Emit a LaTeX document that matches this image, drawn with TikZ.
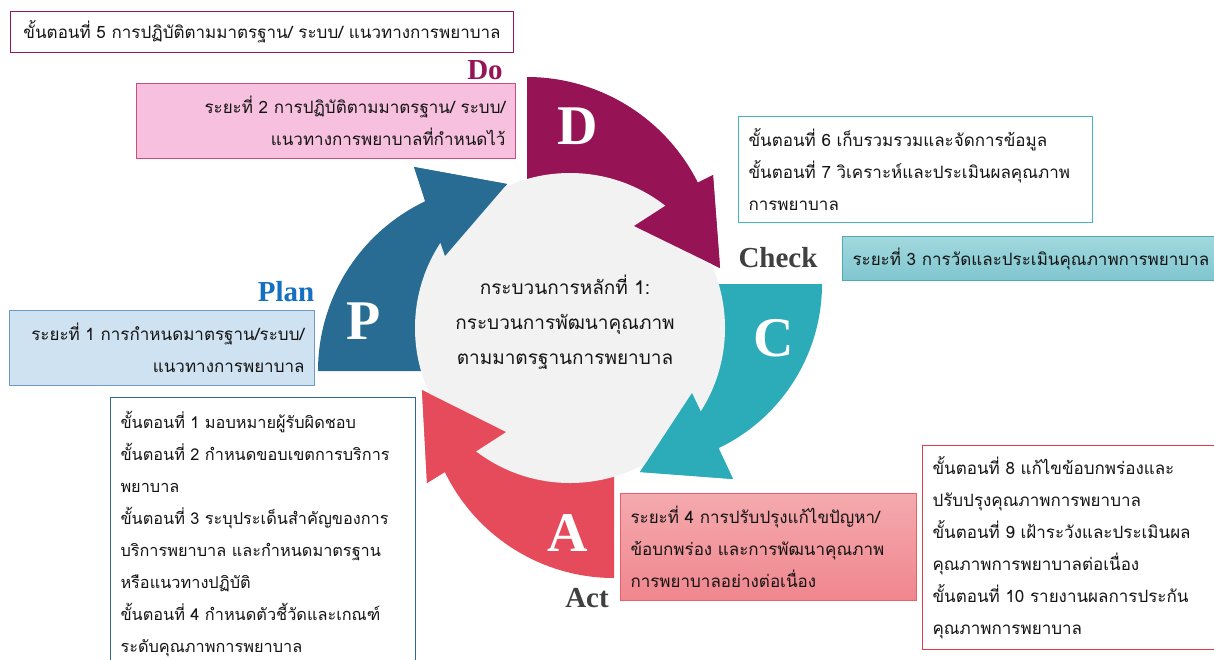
\documentclass[tikz,border=0pt]{standalone}
\usepackage{fontspec}
\newfontfamily\thaifont[Script=Thai]{Loma}
\newfontfamily\letrafont{Liberation Serif}
\definecolor{colD}{RGB}{150,20,86}
\definecolor{colC}{RGB}{44,172,185}
\definecolor{colA}{RGB}{230,75,92}
\definecolor{colP}{RGB}{40,108,147}
\definecolor{fondo}{RGB}{242,242,242}
\definecolor{texto}{RGB}{20,20,20}
\definecolor{azulplan}{RGB}{20,112,192}
\definecolor{grisetiq}{RGB}{64,64,64}

\begin{document}
\begin{tikzpicture}[x=1pt, y=-1pt,
        caja/.style={line width=1pt, inner xsep=10pt, inner ysep=0pt, anchor=north west,
            text=texto, font={\thaifont\fontsize{17}{32}\selectfont}},
        letra/.style={text=white, font={\letrafont\bfseries\fontsize{56}{56}\selectfont}},
        etiqueta/.style={font={\letrafont\bfseries\fontsize{29}{29}\selectfont}}]
        \useasboundingbox (0,0) rectangle (1214,659);
        \clip (0,0) rectangle (1214,659);

        % Flechas del ciclo
        \fill[colD] (527,268) -- (527,77) arc[start angle=-90, end angle=-26.6, radius=191]
            -- (713,175) -- (720,268) -- (634,226) -- cycle;
        \fill[colC] (640,284) -- (822,284) arc[start angle=0, end angle=64.4, radius=182]
            -- (733,479) -- (640,472) -- (692,393) -- cycle;
        \fill[colA] (614,390) -- (614,578) arc[start angle=90, end angle=154.1, radius=188]
            -- (427,483) -- (422,390) -- (506,432) -- cycle;
        \fill[colP] (506,371) -- (318,371) arc[start angle=180, end angle=244.5, radius=188]
            -- (414,167) -- (507,184) -- (445,256) -- cycle;

        % Circulo central
        \fill[fondo] (570,328) circle (155);

        % Puntas encima del circulo
        \fill[colD] (713,175) -- (720,268) -- (634,226) -- cycle;
        \fill[colC] (733,479) -- (640,472) -- (692,393) -- cycle;
        \fill[colA] (427,483) -- (422,390) -- (506,432) -- cycle;
        \fill[colP] (414,167) -- (507,184) -- (445,256) -- cycle;

        % Letras
        \node[letra] (letD) at (578,126) {D};
        \node[letra] (letC) at (774,338) {C};
        \node[letra] (letA) at (568,533) {A};
        \node[letra] (letP) at (364,321) {P};

        % Texto central
        \node[text=texto, align=center, font={\thaifont\fontsize{19}{35}\selectfont}] (centro) at (565,322)
            {กระบวนการหลักที่ 1:\\กระบวนการพัฒนาคุณภาพ\\ตามมาตรฐานการพยาบาล};

        % Etiquetas
        \node[etiqueta, text=colD] (do) at (485,70) {Do};
        \node[etiqueta, text=grisetiq] (check) at (778,258) {Check};
        \node[etiqueta, text=grisetiq] (act) at (587,598) {Act};
        \node[etiqueta, text=azulplan] (plan) at (286,292) {Plan};

        % Do
        \node[caja, draw=colD, fill=white, text width=483pt, minimum height=41pt, align=center] (paso5) at (10,11)
            {ขั้นตอนที่~5~การปฏิบัติตามมาตรฐาน/~ระบบ/~แนวทางการพยาบาล};
        \node[caja, draw={rgb,255:red,196;green,80;blue,130}, fill={rgb,255:red,246;green,192;blue,222},
            text width=359pt, minimum height=75pt, align=right] (fase2) at (136,83)
            {ระยะที่~2~การปฏิบัติตามมาตรฐาน/~ระบบ/\\แนวทางการพยาบาลที่กำหนดไว้};

        % Check
        \node[caja, draw={rgb,255:red,70;green,180;blue,190}, fill=white, text width=334pt, minimum height=106pt,
            align=left] (paso67) at (738,116)
            {ขั้นตอนที่~6~เก็บรวมรวมและจัดการข้อมูล\\ขั้นตอนที่~7~วิเคราะห์และประเมินผลคุณภาพ\\การพยาบาล};
        \node[caja, draw={rgb,255:red,80;green,170;blue,180}, top color={rgb,255:red,162;green,216;blue,222},
            bottom color={rgb,255:red,128;green,198;blue,208}, text width=352pt, minimum height=44pt,
            align=left] (fase3) at (842,236)
            {ระยะที่~3~การวัดและประเมินคุณภาพการพยาบาล};

        % Plan
        \node[caja, draw={rgb,255:red,110;green,155;blue,195}, fill={rgb,255:red,207;green,226;blue,241},
            text width=285pt, minimum height=75pt, align=right] (fase1) at (9,310)
            {ระยะที่~1~การกำหนดมาตรฐาน/ระบบ/\\แนวทางการพยาบาล};
        \node[caja, draw={rgb,255:red,45;green,105;blue,145}, fill=white, text width=285pt, minimum height=272pt,
            align=left, font={\thaifont\fontsize{16.3}{32}\selectfont}] (paso14) at (110,397)
            {ขั้นตอนที่~1~มอบหมายผู้รับผิดชอบ\\ขั้นตอนที่~2~กำหนดขอบเขตการบริการ\\พยาบาล\\
             ขั้นตอนที่~3~ระบุประเด็นสำคัญของการ\\บริการพยาบาล~และกำหนดมาตรฐาน\\หรือแนวทางปฏิบัติ\\
             ขั้นตอนที่~4~กำหนดตัวชี้วัดและเกณฑ์\\ระดับคุณภาพการพยาบาล};

        % Act
        \node[caja, draw={rgb,255:red,232;green,96;blue,108}, top color={rgb,255:red,244;green,170;blue,174},
            bottom color={rgb,255:red,240;green,134;blue,142}, text width=276pt, minimum height=107pt,
            align=left] (fase4) at (620,493)
            {ระยะที่~4~การปรับปรุงแก้ไขปัญหา/\\ข้อบกพร่อง~และการพัฒนาคุณภาพ\\การพยาบาลอย่างต่อเนื่อง};
        \node[caja, draw={rgb,255:red,226;green,60;blue,75}, fill=white, text width=272pt, minimum height=204pt,
            align=left] (paso810) at (922,445)
            {ขั้นตอนที่~8~แก้ไขข้อบกพร่องและ\\ปรับปรุงคุณภาพการพยาบาล\\ขั้นตอนที่~9~เฝ้าระวังและประเมินผล\\
             คุณภาพการพยาบาลต่อเนื่อง\\ขั้นตอนที่~10~รายงานผลการประกัน\\คุณภาพการพยาบาล};
    \end{tikzpicture}
\end{document}
